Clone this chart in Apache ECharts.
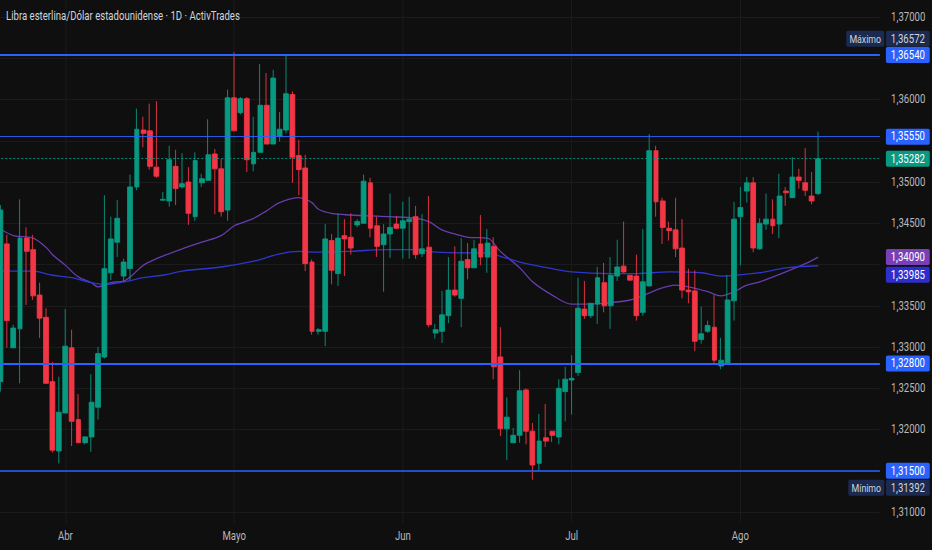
<!DOCTYPE html>
<html><head><meta charset="utf-8">
<script src="https://cdn.jsdelivr.net/npm/echarts@6/dist/echarts.min.js"></script>
<style>
html,body{margin:0;padding:0;background:#0f0f0f;overflow:hidden;width:932px;height:550px;}
#c{width:1165px;height:550px;transform:scaleX(0.8);transform-origin:0 0;}
</style></head><body><div id="c"></div>
<script>
// ---- data ----
const dates = ('2025-03-20 2025-03-21 2025-03-23 2025-03-24 2025-03-25 2025-03-26 2025-03-27 2025-03-28 2025-03-30 2025-03-31 ' +
 '2025-04-01 2025-04-02 2025-04-03 2025-04-04 2025-04-06 2025-04-07 2025-04-08 2025-04-09 2025-04-10 2025-04-11 2025-04-13 2025-04-14 2025-04-15 2025-04-16 2025-04-17 2025-04-18 2025-04-20 2025-04-21 2025-04-22 2025-04-23 2025-04-24 2025-04-25 2025-04-27 2025-04-28 2025-04-29 2025-04-30 ' +
 '2025-05-01 2025-05-02 2025-05-04 2025-05-05 2025-05-06 2025-05-07 2025-05-08 2025-05-09 2025-05-11 2025-05-12 2025-05-13 2025-05-14 2025-05-15 2025-05-16 2025-05-18 2025-05-19 2025-05-20 2025-05-21 2025-05-22 2025-05-23 2025-05-25 2025-05-26 2025-05-27 2025-05-28 2025-05-29 2025-05-30 ' +
 '2025-06-01 2025-06-02 2025-06-03 2025-06-04 2025-06-05 2025-06-06 2025-06-08 2025-06-09 2025-06-10 2025-06-11 2025-06-12 2025-06-13 2025-06-15 2025-06-16 2025-06-17 2025-06-18 2025-06-19 2025-06-20 2025-06-22 2025-06-23 2025-06-24 2025-06-25 2025-06-26 2025-06-27 2025-06-29 2025-06-30 ' +
 '2025-07-01 2025-07-02 2025-07-03 2025-07-06 2025-07-07 2025-07-08 2025-07-09 2025-07-10 2025-07-11 2025-07-13 2025-07-14 2025-07-15 2025-07-16 2025-07-17 2025-07-18 2025-07-20 2025-07-21 2025-07-22 2025-07-23 2025-07-24 2025-07-25 2025-07-27 2025-07-28 2025-07-29 2025-07-30 2025-07-31 ' +
 '2025-08-01 2025-08-03 2025-08-04 2025-08-05 2025-08-06 2025-08-07 2025-08-08 2025-08-10 2025-08-11 2025-08-12 2025-08-13 2025-08-14 2025-08-15').split(' ');
const futureDates = ['2025-08-17','2025-08-18','2025-08-19','2025-08-20','2025-08-21','2025-08-22','2025-08-24','2025-08-25','2025-08-26'];
const monthLabels = {'2025-04-01':'Abr','2025-05-01':'Mayo','2025-06-01':'Jun','2025-07-01':'Jul','2025-08-01':'Ago'};

// [open, close, low, high]
const ohlc = [
 [1.3258,1.3466,1.3246,1.3472],[1.3425,1.3332,1.3299,1.3436],[1.3299,1.3323,1.3299,1.3327],[1.3322,1.3432,1.3256,1.3479],
 [1.3432,1.3416,1.3351,1.3445],[1.3418,1.3362,1.3357,1.3436],[1.3363,1.3335,1.3311,1.3378],[1.3336,1.3256,1.3256,1.3347],
 [1.3258,1.3175,1.3172,1.3282],[1.3174,1.3221,1.3159,1.3264],[1.3220,1.3301,1.3220,1.3346],[1.3299,1.3210,1.3180,1.3321],
 [1.3212,1.3184,1.3184,1.3243],[1.3184,1.3191,1.3182,1.3192],[1.3191,1.3233,1.3173,1.3267],[1.3227,1.3292,1.3212,1.3300],
 [1.3288,1.3395,1.3286,1.3484],[1.3390,1.3431,1.3381,1.3458],[1.3427,1.3456,1.3409,1.3478],[1.3386,1.3403,1.3379,1.3407],
 [1.3395,1.3494,1.3381,1.3509],[1.3494,1.3564,1.3490,1.3589],[1.3563,1.3559,1.3542,1.3579],[1.3562,1.3519,1.3515,1.3595],
 [1.3518,1.3507,1.3505,1.3598],[1.3478,1.3479,1.3478,1.3488],[1.3477,1.3527,1.3470,1.3544],[1.3519,1.3492,1.3472,1.3539],
 [1.3494,1.3498,1.3492,1.3535],[1.3500,1.3462,1.3448,1.3518],[1.3458,1.3526,1.3453,1.3536],[1.3499,1.3504,1.3494,1.3510],
 [1.3502,1.3533,1.3502,1.3576],[1.3534,1.3516,1.3461,1.3540],[1.3516,1.3464,1.3458,1.3528],[1.3466,1.3602,1.3453,1.3612],
 [1.3602,1.3562,1.3562,1.36572],[1.3584,1.3601,1.3582,1.3603],[1.3601,1.3527,1.3512,1.3603],[1.3522,1.3536,1.3513,1.3579],
 [1.3536,1.3593,1.3536,1.3643],[1.3593,1.3546,1.3546,1.3632],[1.3546,1.3626,1.3546,1.3636],[1.3555,1.3564,1.3549,1.3585],
 [1.3563,1.3607,1.3559,1.3653],[1.3606,1.3530,1.3499,1.3610],[1.3532,1.3515,1.3484,1.3551],[1.3517,1.3401,1.3392,1.3533],
 [1.3403,1.3319,1.3315,1.3406],[1.3319,1.3321,1.3315,1.3323],[1.3319,1.3431,1.3301,1.3449],[1.3429,1.3393,1.3376,1.3437],
 [1.3389,1.3432,1.3374,1.3462],[1.3435,1.3431,1.3386,1.3455],[1.3433,1.3420,1.3412,1.3462],[1.3448,1.3452,1.3445,1.3455],
 [1.3450,1.3501,1.3450,1.3509],[1.3499,1.3444,1.3433,1.3505],[1.3447,1.3422,1.3409,1.3458],[1.3424,1.3437,1.3367,1.3449],
 [1.3437,1.3445,1.3408,1.3486],[1.3449,1.3444,1.3443,1.3459],[1.3444,1.3453,1.3407,1.3476],[1.3452,1.3455,1.3407,1.3482],
 [1.3458,1.3412,1.3407,1.3471],[1.3413,1.3419,1.3409,1.3461],[1.3421,1.3327,1.3324,1.3483],[1.3317,1.3321,1.3310,1.3328],
 [1.3319,1.3339,1.3305,1.3368],[1.3338,1.3369,1.3329,1.3409],[1.3369,1.3363,1.3361,1.3422],[1.3359,1.3404,1.3324,1.3432],
 [1.3406,1.3396,1.3382,1.3426],[1.3396,1.3419,1.3396,1.3430],[1.3425,1.3409,1.3399,1.3460],[1.3409,1.3426,1.3390,1.3443],
 [1.3422,1.3276,1.3261,1.3433],[1.3288,1.3201,1.3192,1.3324],[1.3201,1.3215,1.3163,1.3239],[1.3184,1.3193,1.3184,1.3202],
 [1.3193,1.3247,1.3184,1.3272],[1.3248,1.3198,1.3182,1.3250],[1.3198,1.3157,1.31392,1.3208],[1.3159,1.3186,1.3150,1.3219],
 [1.3190,1.3186,1.3179,1.3231],[1.3198,1.3193,1.3185,1.3198],[1.3191,1.3250,1.3182,1.3261],[1.3246,1.3261,1.3210,1.3276],
 [1.3260,1.3262,1.3218,1.3290],[1.3269,1.3347,1.3265,1.3384],[1.3346,1.3338,1.3334,1.3380],[1.3338,1.3353,1.3335,1.3353],
 [1.3352,1.3384,1.3328,1.3397],[1.3378,1.3350,1.3342,1.3402],[1.3350,1.3387,1.3322,1.3409],[1.3386,1.3397,1.3380,1.3430],
 [1.3398,1.3391,1.3390,1.3452],[1.3387,1.3381,1.3381,1.3387],[1.3386,1.3338,1.3332,1.3412],[1.3342,1.3379,1.3338,1.3443],
 [1.3374,1.3538,1.3374,1.3558],[1.3538,1.3476,1.3458,1.3544],[1.3477,1.3445,1.3425,1.3481],[1.3444,1.3441,1.3429,1.3452],
 [1.3442,1.3419,1.3409,1.3481],[1.3420,1.3369,1.3359,1.3455],[1.3369,1.3367,1.3353,1.3395],[1.3368,1.3307,1.3295,1.3393],
 [1.3309,1.3316,1.3304,1.3349],[1.3319,1.3326,1.3317,1.3332],[1.3324,1.3284,1.3279,1.3363],[1.3277,1.3284,1.3273,1.3311],
 [1.3279,1.3357,1.3278,1.3387],[1.3356,1.3455,1.3332,1.3476],[1.3458,1.3469,1.3399,1.3494],[1.3489,1.3499,1.3475,1.3506],
 [1.3499,1.3420,1.3415,1.3506],[1.3419,1.3450,1.3418,1.3456],[1.3449,1.3455,1.3442,1.3486],[1.3455,1.3447,1.3437,1.3479],
 [1.3449,1.3483,1.3432,1.3510],[1.3489,1.3487,1.3471,1.3494],[1.3481,1.3506,1.3481,1.3530],[1.3506,1.3502,1.3492,1.3516],
 [1.3499,1.3490,1.3483,1.3541],[1.3483,1.3477,1.3473,1.3512],[1.3486,1.35282,1.3484,1.3561]
];

// moving averages: [candle index, value]
const maFast = [[0,1.3443],[2,1.3435],[5,1.3432],[7,1.3421],[8,1.3412],[10,1.3399],[12,1.3385],[14,1.3378],[15,1.3373],[17,1.3378],
 [19,1.3380],[20,1.3385],[22,1.3399],[24,1.3407],[28,1.3419],[31,1.3427],[34,1.3435],[36,1.3447],[37,1.3450],[39,1.3456],
 [41,1.3465],[43,1.3475],[46,1.3481],[47,1.3479],[48,1.3475],[49,1.3467],[51,1.3462],[54,1.3460],[57,1.3459],[60,1.3458],
 [64,1.3456],[66,1.3452],[68,1.3442],[70,1.3437],[72,1.3433],[75,1.3432],[77,1.3416],[80,1.3396],[82,1.3379],[85,1.3363],
 [88,1.3352],[90,1.3352],[93,1.3353],[97,1.3357],[99,1.3362],[101,1.3369],[104,1.3375],[106,1.3373],[109,1.3367],[111,1.3362],
 [113,1.3367],[115,1.3375],[117,1.3379],[121,1.3391],[124,1.3401],[126,1.3409]];
const maSlow = [[0,1.3392],[5,1.3392],[8,1.3387],[11,1.3384],[14,1.3378],[16,1.3376],[19,1.3379],[22,1.3384],[25,1.3387],[28,1.3392],
 [34,1.3397],[39,1.3404],[43,1.3413],[46,1.3416],[48,1.3415],[54,1.3416],[59,1.3418],[64,1.3418],[67,1.3415],[71,1.3414],
 [75,1.3414],[77,1.3410],[80,1.3403],[85,1.3395],[88,1.3391],[94,1.3389],[98,1.3389],[103,1.3391],[108,1.3390],[111,1.3386],
 [117,1.3390],[121,1.3396],[126,1.33985]];

const levels = [1.3654, 1.3555, 1.3280, 1.3150];
const lastPrice = 1.35282;
const periodHigh = 1.36572, periodLow = 1.31392;
const maFastLast = 1.34090, maSlowLast = 1.33985;
const yTickLabels = ['1,37000','1,36000','1,35000','1,34500','1,33500','1,33000','1,32500','1,32000','1,31000'];
const titleText = 'Libra esterlina/Dólar estadounidense · 1D · ActivTrades';

// ---- layout / style ----
const W = 1165, H = 550;
const GRID_LEFT = -3.43, GRID_WIDTH = 1103.3, GRID_HEIGHT = 523;
const Y_MIN = 1.30867, Y_MAX = 1.37206;
const UP = '#089981', DOWN = '#f23645', BLUE = '#2962ff', NAVY = '#1b2a4e';
const PURPLE_LINE = '#6a3db3', SLOW_LINE = '#2f36d0', PURPLE_TAG = '#7a3fb6', SLOW_TAG = '#2e2ecc';
const GRIDC = '#1d1d1d', TXT = '#b8b8bc';
const FONT = 'Roboto';
const fmt = v => v.toFixed(5).replace('.', ',');
const isMonth = (i, v) => Object.prototype.hasOwnProperty.call(monthLabels, v);

const option = {
  backgroundColor: '#0f0f0f',
  animation: false,
  textStyle: { fontFamily: FONT },
  title: { text: titleText, left: 7.5, top: 10, padding: 0,
    textStyle: { color: '#d1d4dc', fontSize: 12, fontWeight: 'normal', fontFamily: FONT } },
  grid: { left: GRID_LEFT, top: 0, width: GRID_WIDTH, height: GRID_HEIGHT, containLabel: false, outerBoundsMode: 'none' },
  xAxis: {
    type: 'category', data: dates.concat(futureDates), boundaryGap: true,
    axisLine: { show: false }, axisTick: { show: false },
    axisLabel: { interval: isMonth, formatter: v => monthLabels[v] || '', color: TXT, fontSize: 12, margin: 7, fontFamily: FONT },
    splitLine: { show: true, interval: isMonth, alignWithLabel: true, lineStyle: { color: GRIDC, width: 1 } }
  },
  yAxis: {
    type: 'value', position: 'right', min: Y_MIN, max: Y_MAX, splitNumber: 12,
    axisLine: { show: false }, axisTick: { show: false },
    splitLine: { show: true, showMinLine: false, showMaxLine: false, lineStyle: { color: GRIDC, width: 1 } },
    axisLabel: { margin: 14, color: TXT, fontSize: 12, fontFamily: FONT, showMinLabel: false, showMaxLabel: false,
      formatter: v => { const s = fmt(v); return yTickLabels.indexOf(s) >= 0 ? s : ''; } }
  },
  series: [
    { type: 'line', name: 'MA rápida', data: maFast, smooth: 0.35, showSymbol: false, z: 1, silent: true,
      lineStyle: { color: PURPLE_LINE, width: 1.3 } },
    { type: 'line', name: 'MA lenta', data: maSlow, smooth: 0.35, showSymbol: false, z: 1, silent: true,
      lineStyle: { color: SLOW_LINE, width: 1.3 } },
    { type: 'candlestick', name: 'GBPUSD', data: ohlc, barWidth: 6.4, z: 2,
      itemStyle: { color: UP, color0: DOWN, borderColor: UP, borderColor0: DOWN, borderWidth: 1 },
      markLine: { symbol: ['none', 'none'], silent: true, animation: false, precision: 5, label: { show: false },
        data: [
          { yAxis: levels[0], lineStyle: { color: BLUE, width: 2, type: 'solid' } },
          { yAxis: levels[1], lineStyle: { color: BLUE, width: 1, type: 'solid' } },
          { yAxis: levels[2], lineStyle: { color: BLUE, width: 2, type: 'solid' } },
          { yAxis: levels[3], lineStyle: { color: BLUE, width: 1.6, type: 'solid' } },
          { yAxis: lastPrice, lineStyle: { color: UP, width: 1, type: [2.5, 2.5] } }
        ] } }
  ]
};

const chart = echarts.init(document.getElementById('c'), null, { renderer: 'svg', width: W, height: H });
chart.setOption(option);

// price-scale tags
const tags = [
  { v: levels[0], bg: BLUE, fg: '#ffffff' },
  { v: levels[1], bg: BLUE, fg: '#ffffff' },
  { v: levels[2], bg: BLUE, fg: '#ffffff' },
  { v: levels[3], bg: BLUE, fg: '#ffffff' },
  { v: lastPrice, bg: UP, fg: '#ffffff' },
  { v: maFastLast, bg: PURPLE_TAG, fg: '#ffffff' },
  { v: maSlowLast, bg: SLOW_TAG, fg: '#ffffff', nudge: 9 },
  { v: periodHigh, bg: NAVY, fg: '#d1d4dc', nudge: -13.5, caption: 'Máximo' },
  { v: periodLow, bg: NAVY, fg: '#d1d4dc', nudge: 8, caption: 'Mínimo' }
];
const tagX = GRID_LEFT + GRID_WIDTH + 7.5;
const graphics = [];
tags.forEach(t => {
  const y = chart.convertToPixel({ yAxisIndex: 0 }, t.v) + (t.nudge || 0);
  graphics.push({ type: 'text', x: tagX, y: y, z: 100, silent: true,
    style: { text: fmt(t.v), fill: t.fg, font: '12px ' + FONT, backgroundColor: t.bg, padding: [2, 6, 2, 6],
      borderRadius: 2, align: 'left', verticalAlign: 'middle' } });
  if (t.caption) {
    graphics.push({ type: 'text', x: tagX - 2, y: y, z: 100, silent: true,
      style: { text: t.caption, fill: t.fg, font: '11px ' + FONT, backgroundColor: t.bg, padding: [2.5, 4, 2.5, 4],
        borderRadius: 2, align: 'right', verticalAlign: 'middle' } });
  }
});
chart.setOption({ graphic: graphics });
</script>
</body></html>
